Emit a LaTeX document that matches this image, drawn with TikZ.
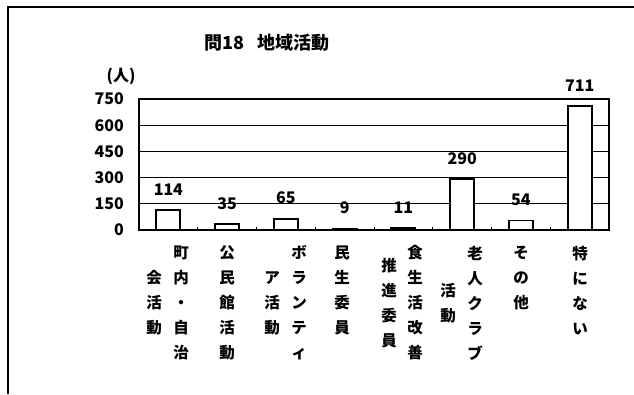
\documentclass[tikz,border=0pt]{standalone}
\usepackage{fontspec}
\newfontfamily\jpfont{Noto Sans CJK JP}
\begin{document}
\begin{tikzpicture}[x=1pt,y=-1pt,
    catlabel/.style={align=center,inner sep=0pt,
        font=\jpfont\bfseries\fontsize{15.5}{25}\selectfont},
    numlabel/.style={inner sep=0pt,font=\jpfont\bfseries\fontsize{16}{16}\selectfont},
    bar/.style={line width=1.8pt,fill=white}]
    \useasboundingbox (0,0) rectangle (634,394);
    %% Frame
    \draw[line width=1.5pt] (8,394) -- (8,7) -- (634,7);
    %% Title
    \node[font=\jpfont\bfseries\fontsize{18}{18}\selectfont] (title) at (267,43) {問18\hspace{0.7em}地域活動};
    \node[numlabel] (unit) at (121,76) {(人)};
    %% Grid
    \foreach \v in {150,300,450,600}
        \draw[line width=1.1pt] (139,{230-\v*0.17467}) -- (609,{230-\v*0.17467});
    \draw[line width=1.2pt] (139,99) rectangle (609,230);
    \foreach \v in {0,150,...,750}
        \node[numlabel,anchor=east] (y\v) at (124,{230-\v*0.17467}) {\v};
    \foreach \i in {1,...,7}
        \draw[line width=1pt] ({139+58.75*\i},230) -- ++(0,-3);
    %% Bars
    \foreach \v [count=\i] in {114,35,65,9,11,290,54,711} {
        \pgfmathsetmacro\cx{139+58.75*(\i-0.5)}
        \draw[bar] (\cx-12,230) rectangle (\cx+12,{230-\v*0.17467});
        \node[numlabel] (val\i) at (\cx,{230-\v*0.17467-20.5}) {\v};
    }
    %% Categories
    \node[catlabel] (cat1a) at (181,303) {町\\内\\・\\自\\治};
    \node[catlabel] (cat1b) at (154,303) {会\\活\\動};
    \node[catlabel] (cat2) at (227,303) {公\\民\\館\\活\\動};
    \node[catlabel] (cat3a) at (299,303) {ボ\\ラ\\ン\\テ\\ィ};
    \node[catlabel] (cat3b) at (272,303) {ア\\活\\動};
    \node[catlabel] (cat4) at (342,290.5) {民\\生\\委\\員};
    \node[catlabel] (cat5a) at (415,303) {食\\生\\活\\改\\善};
    \node[catlabel] (cat5b) at (389,303) {推\\進\\委\\員};
    \node[catlabel] (cat6a) at (475,303) {老\\人\\ク\\ラ\\ブ};
    \node[catlabel] (cat6b) at (448,303) {活\\動};
    \node[catlabel] (cat7) at (521,278) {そ\\の\\他};
    \node[catlabel] (cat8) at (580,290.5) {特\\に\\な\\い};
\end{tikzpicture}
\end{document}
